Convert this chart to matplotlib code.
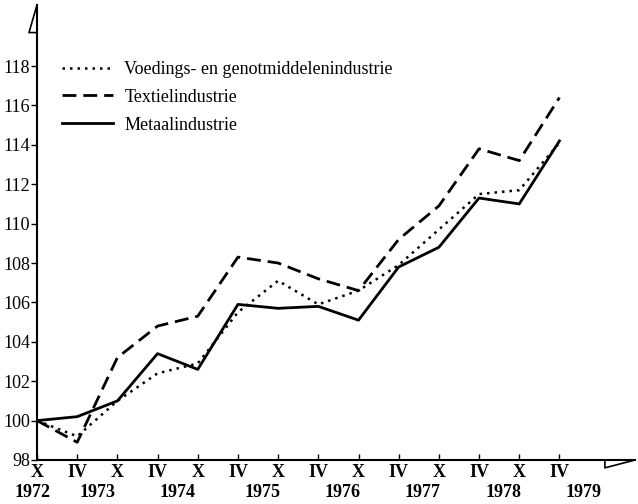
import matplotlib
matplotlib.use("Agg")
import matplotlib.pyplot as plt
import matplotlib.transforms as mtransforms

quarters = ["X", "IV", "X", "IV", "X", "IV", "X", "IV", "X", "IV", "X", "IV", "X", "IV"]
years = ["1972", "1973", "1974", "1975", "1976", "1977", "1978", "1979"]
year_pos = [-0.1, 1.5, 3.5, 5.6, 7.6, 9.6, 11.6, 13.6]

voeding = [100, 99.2, 101.0, 102.4, 102.9, 105.5, 107.1, 105.9, 106.6, 107.9, 109.7, 111.5, 111.7, 114.1]
textiel = [100, 98.9, 103.2, 104.8, 105.3, 108.3, 108.0, 107.2, 106.6, 109.2, 110.9, 113.8, 113.2, 116.4]
metaal = [100, 100.2, 101.0, 103.4, 102.6, 105.9, 105.7, 105.8, 105.1, 107.8, 108.8, 111.3, 111.0, 114.2]

plt.rcParams['font.family'] = ['Liberation Serif', 'DejaVu Serif']

fig = plt.figure(figsize=(6.38, 5.04), dpi=100)
W, H = 638, 504
ax = fig.add_axes([37 / W, (H - 460) / H, (635 - 37) / W, (460 - 5) / H])

x = list(range(len(quarters)))
ax.plot(x, voeding, color='black', lw=1.8, ls=(0, (1, 2)), label='Voedings- en genotmiddelenindustrie')
ax.plot(x, textiel, color='black', lw=2.0, ls=(0, (5, 2.5)), label='Textielindustrie')
ax.plot(x, metaal, color='black', lw=2.0, ls='-', label='Metaalindustrie')

ax.set_xlim(0, 14.88)
ax.set_ylim(98, 121.1)

for s in ['top', 'right']:
    ax.spines[s].set_visible(False)
ax.spines['left'].set_linewidth(1.5)
ax.spines['bottom'].set_linewidth(1.5)

ax.set_yticks(range(98, 119, 2))
ax.tick_params(axis='y', direction='out', length=4, width=1, labelsize=13, pad=1)
ax.set_xticks(x, quarters)
ax.tick_params(axis='x', direction='in', length=4, width=1, labelsize=13, pad=3)
for t in ax.get_xticklabels():
    t.set_fontweight('bold')

trans = mtransforms.blended_transform_factory(ax.transData, ax.transAxes)
for pos, yr in zip(year_pos, years):
    ax.text(pos, -0.071, yr, transform=trans, ha='center', va='center',
            fontsize=13, fontweight='bold')

# axis arrow heads
ax.plot([0, -0.2, 0], [121.1, 119.7, 119.7], color='black', lw=1.2, clip_on=False)
ax.plot([14.13, 14.13, 14.88], [98, 97.6, 98], color='black', lw=1.2, clip_on=False)

ax.legend(loc='upper left', bbox_to_anchor=(0.03, 0.893), frameon=False, fontsize=13,
          handlelength=2.8, handletextpad=0.65, labelspacing=0.6, borderaxespad=0)

fig.savefig('out.png', dpi=100)
